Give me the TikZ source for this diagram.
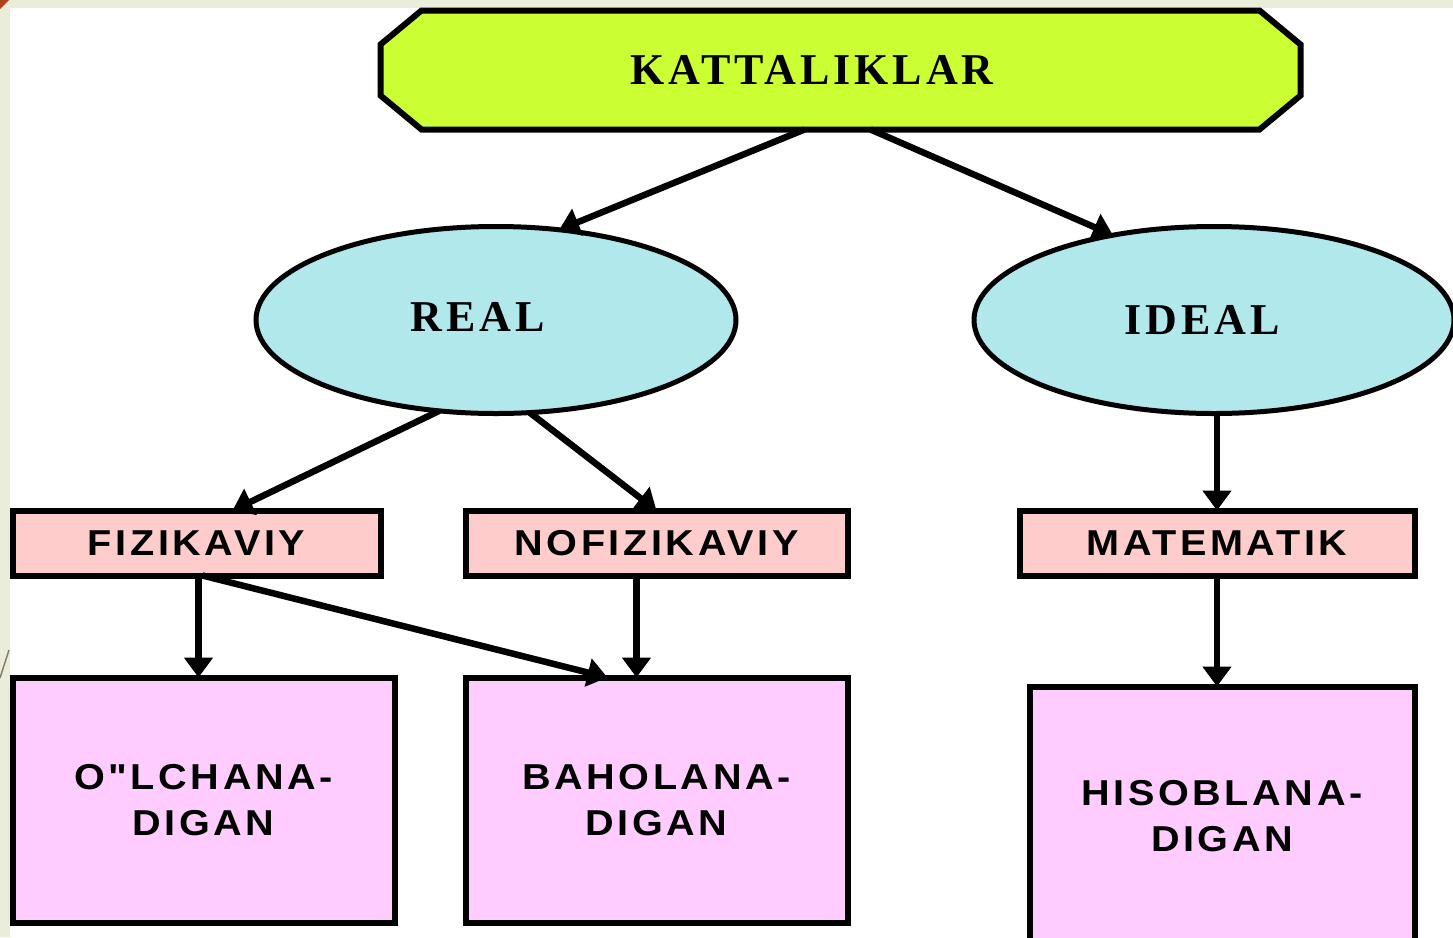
\documentclass[tikz,border=0pt]{standalone}
\usepackage{fontspec}
\usetikzlibrary{shapes.geometric,arrows.meta}

\definecolor{pagebeige}{HTML}{E9EDD9}
\definecolor{cornerred}{HTML}{B5401E}
\definecolor{edgebrown}{HTML}{8B7D6B}
\definecolor{katgreen}{HTML}{CCFF33}
\definecolor{ovalcyan}{HTML}{B0E8EC}
\definecolor{rowpink}{HTML}{FFCCCC}
\definecolor{leafpink}{HTML}{FFCCFF}

\newfontfamily\titlefont[LetterSpace=9]{Liberation Serif}
\newfontfamily\boxfont[LetterSpace=10,FakeStretch=1.1]{Liberation Sans}

\begin{document}
\begin{tikzpicture}[x=1pt,y=-1pt,
    titletext/.style={font=\titlefont\bfseries\fontsize{44}{50}\selectfont},
    boxtext/.style={font=\boxfont\bfseries\fontsize{36}{46}\selectfont, align=center},
    topbox/.style={rectangle, minimum width=920pt, minimum height=119pt, inner sep=0pt, outer sep=0pt},
    octagon/.style={draw, line width=6pt, fill=katgreen},
    oval/.style={ellipse, draw, line width=5pt, fill=ovalcyan, minimum width=480pt, minimum height=187pt, inner sep=0pt, outer sep=0pt},
    rowbox/.style={rectangle, draw, line width=6pt, fill=rowpink, minimum height=65pt, inner sep=0pt, outer sep=0pt, boxtext},
    leafbox/.style={rectangle, draw, line width=6pt, fill=leafpink, inner sep=0pt, outer sep=0pt, boxtext},
    arr/.style={line width=6.5pt, -{Triangle[width=28pt,length=20pt]}}]

\useasboundingbox (0,0) rectangle (1453,937);
\clip (0,0) rectangle (1453,937);

    % Page background
    \fill[pagebeige] (0,0) rectangle (1453,937);
    \fill[white] (10,8) rectangle (1453,937);
    \fill[cornerred] (0,0) -- (9,0) -- (0,9) -- cycle;
    \draw[edgebrown, line width=1.5pt] (0,678) -- (9,650);

    % Top octagon
    \node[topbox] (kat) at (840.5,70) {};
    \draw[octagon] ([xshift=41pt]kat.north west) -- ([xshift=-41pt]kat.north east)
        -- ([yshift=-34pt]kat.north east) -- ([yshift=34pt]kat.south east)
        -- ([xshift=-41pt]kat.south east) -- ([xshift=41pt]kat.south west)
        -- ([yshift=34pt]kat.south west) -- ([yshift=-34pt]kat.north west) -- cycle;
    \node[titletext] (kattext) at (812,70) {KATTALIKLAR};

    % Draw the ellipses
    \node[oval, label={[titletext, xshift=-18pt, yshift=3pt]center:REAL}] (real) at (496,320) {};
    \node[oval, label={[titletext, xshift=-12pt]center:IDEAL}] (ideal) at (1214,320) {};

    % Draw the row boxes
    \foreach \name/\x/\w/\txt in {fiz/196.5/368/FIZIKAVIY, nofiz/656.5/382/NOFIZIKAVIY, mat/1217/395/MATEMATIK} {
        \node[rowbox, minimum width=\w pt] (\name) at (\x,543) {\txt};
    }

    % Draw the leaf boxes
    \foreach \name/\x/\y/\w/\h/\txt in {olch/203.5/800/382/245/{O"LCHANA-\\DIGAN},
            bahol/656.5/800/382/245/{BAHOLANA-\\DIGAN},
            hisob/1222/815.75/385/258.5/{HISOBLANA-\\DIGAN}} {
        \node[leafbox, minimum width=\w pt, minimum height=\h pt] (\name) at (\x,\y) {\txt};
    }

    % Draw the arrows
    \draw[arr] ([xshift=-36pt]kat.south) -- (real.55);
    \draw[arr] ([xshift=30pt]kat.south) -- (ideal.140);
    \draw[arr] (real.238) -- ([xshift=36pt]fiz.north);
    \draw[arr] (real.290) -- (nofiz.north);
    \draw[arr] (mat.north |- ideal.south) -- (mat.north);
    \draw[arr] ([xshift=2pt]fiz.south) -- ([xshift=2pt]fiz.south |- olch.north);
    \draw[arr] ([xshift=6pt]fiz.south) -- ([xshift=-49pt]bahol.north);
    \draw[arr] ([xshift=-20pt]nofiz.south) -- ([xshift=-20pt]nofiz.south |- bahol.north);
    \draw[arr] (mat.south) -- (mat.south |- hisob.north);

\end{tikzpicture}
\end{document}
